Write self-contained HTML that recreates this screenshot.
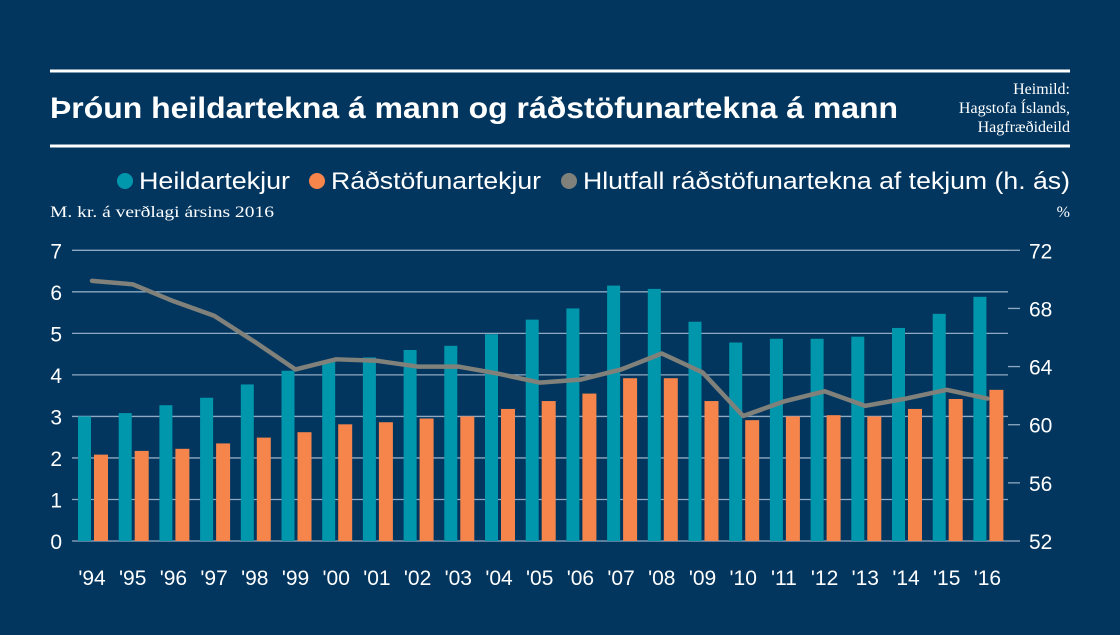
<!DOCTYPE html>
<html><head><meta charset="utf-8"><style>
body{margin:0;background:#02365f;width:1120px;height:630px;overflow:hidden;font-family:"Liberation Sans",sans-serif;color:#fff}
</style></head><body>
<svg width="1120" height="630" xmlns="http://www.w3.org/2000/svg" id="svg">
<rect width="1120" height="630" fill="#02365f"/>
<line x1="50" y1="71" x2="1070" y2="71" stroke="#fff" stroke-width="3"/>
<line x1="50" y1="146" x2="1070" y2="146" stroke="#fff" stroke-width="3"/>
<text x="50" y="118" font-size="30" font-weight="bold" fill="#fff" textLength="848" lengthAdjust="spacingAndGlyphs">Þróun heildartekna á mann og ráðstöfunartekna á mann</text>
<g font-size="16" fill="#fff" text-anchor="end" font-family="Liberation Serif, serif">
<text x="1070" y="94">Heimild:</text><text x="1070" y="113">Hagstofa Íslands,</text><text x="1070" y="132">Hagfræðideild</text></g>
<g font-size="24" fill="#fff">
<circle cx="125" cy="181" r="8" fill="#0097ac"/>
<text x="139" y="189" textLength="151" lengthAdjust="spacingAndGlyphs">Heildartekjur</text>
<circle cx="317" cy="181" r="8" fill="#f5854b"/>
<text x="331" y="189" textLength="210" lengthAdjust="spacingAndGlyphs">Ráðstöfunartekjur</text>
<circle cx="569" cy="181" r="8" fill="#80817a"/>
<text x="583" y="189" textLength="487" lengthAdjust="spacingAndGlyphs">Hlutfall ráðstöfunartekna af tekjum (h. ás)</text>
</g>
<text x="50" y="217" font-size="16" fill="#fff" font-family="Liberation Serif, serif" textLength="224" lengthAdjust="spacingAndGlyphs">M. kr. á verðlagi ársins 2016</text>
<text x="1070" y="217" font-size="16" fill="#fff" text-anchor="end" font-family="Liberation Serif, serif">%</text>
<g id="grid"></g><g id="bars"></g><g id="line"></g><g id="labels"></g>
</svg>
<script>
const categories=["'94","'95","'96","'97","'98","'99","'00","'01","'02","'03","'04","'05","'06","'07","'08","'09","'10","'11","'12","'13","'14","'15","'16"];
const heildartekjur=[3.0,3.08,3.27,3.45,3.77,4.1,4.34,4.42,4.6,4.7,4.98,5.33,5.6,6.15,6.07,5.28,4.78,4.87,4.87,4.92,5.13,5.47,5.88];
const radstofunartekjur=[2.08,2.17,2.22,2.35,2.49,2.62,2.81,2.86,2.95,3.0,3.18,3.37,3.55,3.92,3.92,3.37,2.91,3.0,3.03,3.0,3.18,3.42,3.64];
const hlutfall=[69.9,69.66,68.5,67.5,65.7,63.8,64.5,64.4,64.0,64.0,63.5,62.9,63.1,63.8,64.9,63.6,60.6,61.6,62.3,61.3,61.8,62.4,61.8];
const leftTicks=[0,1,2,3,4,5,6,7];
const rightTicks=[52,56,60,64,68,72];
const NS="http://www.w3.org/2000/svg";
function mk(t,a,p){const e=document.createElementNS(NS,t);for(const k in a)e.setAttribute(k,a[k]);p.appendChild(e);return e;}
const y0=541,y1=250.3;
const yL=v=>y0-(v/7)*(y0-y1);
const yR=v=>y0-((v-52)/20)*(y0-y1);
const xC=i=>92+i*40.7;
const grid=document.getElementById('grid'),bars=document.getElementById('bars'),line=document.getElementById('line'),labels=document.getElementById('labels');
leftTicks.forEach(v=>{
 const l=mk('line',{x1:72,x2:1008,y1:yL(v),y2:yL(v),stroke:'#8fa9c0','stroke-width':1.3},grid);
 
 
 const t=mk('text',{x:62,y:yL(v)+8,'font-size':21,fill:'#fff','text-anchor':'end'},labels);t.textContent=v;
 
 
});
rightTicks.forEach(v=>{
 const l=mk('line',{x1:1008,x2:1020,y1:yR(v),y2:yR(v),stroke:'#8fa9c0','stroke-width':1.3},grid);
 
 
 const t=mk('text',{x:1029,y:yR(v)+8,'font-size':21,fill:'#fff'},labels);t.textContent=v;
 
 
});
categories.forEach((c,i)=>{
 const x=xC(i);
 const b1=mk('rect',{x:x-14,y:yL(heildartekjur[i]),width:13,height:y0-yL(heildartekjur[i]),fill:'#0097ac'},bars);
 
 
 const b2=mk('rect',{x:x+2,y:yL(radstofunartekjur[i]),width:14,height:y0-yL(radstofunartekjur[i]),fill:'#f5854b'},bars);
 
 
 const t=mk('text',{x:x,y:585,'font-size':21,fill:'#fff','text-anchor':'middle'},labels);t.textContent=c;
 
 
});
const pl=mk('polyline',{points:hlutfall.map((v,i)=>xC(i)+','+yR(v)).join(' '),fill:'none',stroke:'#80817a','stroke-width':4.5,'stroke-linejoin':'round','stroke-linecap':'round'},line);


</script>
</body></html>
